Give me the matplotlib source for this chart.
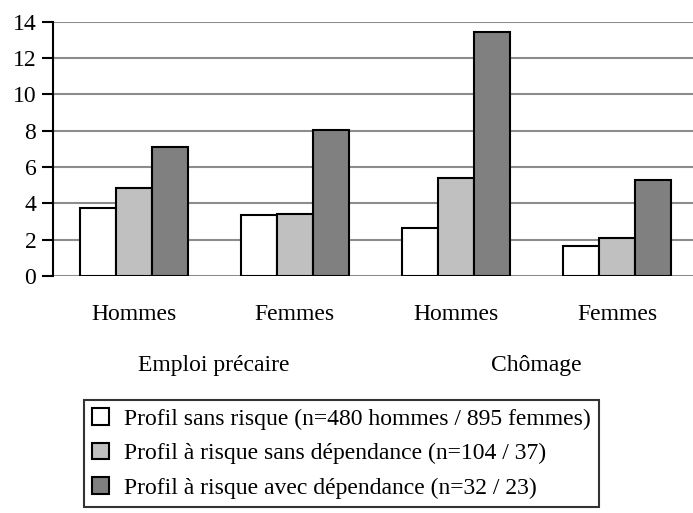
import numpy as np
import matplotlib
matplotlib.use("Agg")
import matplotlib.pyplot as plt
from matplotlib.patches import Patch

plt.rcParams['font.family'] = ['Liberation Serif', 'DejaVu Serif']

sexes = ['Hommes', 'Femmes', 'Hommes', 'Femmes']
situations = ['Emploi précaire', 'Chômage']
series_names = ['Profil sans risque (n=480 hommes / 895 femmes)',
                'Profil à risque sans dépendance (n=104 / 37)',
                'Profil à risque avec dépendance (n=32 / 23)']
sans_risque = [3.76, 3.34, 2.66, 1.67]
risque_sans_dep = [4.86, 3.43, 5.41, 2.11]
risque_avec_dep = [7.08, 8.05, 13.45, 5.28]
colors = ['white', '#c0c0c0', '#808080']

W, H = 693, 513
fig = plt.figure(figsize=(W / 100, H / 100), dpi=100)
ax = fig.add_axes([53 / W, 1 - 276 / H, 645 / W, 254.3 / H])

x = np.arange(len(sexes))
bw = 0.223
for i, vals in enumerate([sans_risque, risque_sans_dep, risque_avec_dep]):
    ax.bar(x + (i - 1) * bw, vals, bw, color=colors[i], edgecolor='black',
           linewidth=1.5, zorder=3)

ax.set_xlim(-0.5, 3.5)
ax.set_ylim(0, 14)
ax.set_yticks(range(0, 15, 2))
ax.yaxis.grid(True, color='#8c8c8c', linewidth=1.5, zorder=0)
for s in ['top', 'right', 'bottom']:
    ax.spines[s].set_visible(False)
ax.spines['left'].set_linewidth(1.5)
ax.spines['left'].set_zorder(4)
ax.tick_params(axis='y', direction='out', length=8, width=1.5, labelsize=17, pad=4)
ax.set_xticks(x)
ax.set_xticklabels(sexes, fontsize=17)
ax.tick_params(axis='x', length=0, pad=20)

for j, name in enumerate(situations):
    ax.text(2 * j + 0.5, -0.35, name, transform=ax.get_xaxis_transform(),
            ha='center', va='center', fontsize=17)

handles = [Patch(facecolor=c, edgecolor='black', linewidth=1.5) for c in colors]
leg = fig.legend(handles, series_names, loc='upper left',
                 bbox_to_anchor=(84 / W, 1 - 400 / H), fontsize=17,
                 frameon=True, fancybox=False, edgecolor='black',
                 handlelength=0.7, handleheight=0.7, handletextpad=0.65,
                 labelspacing=0.55, borderpad=0.35, borderaxespad=0)
leg.get_frame().set_linewidth(1.5)

fig.savefig('out.png', dpi=100)
